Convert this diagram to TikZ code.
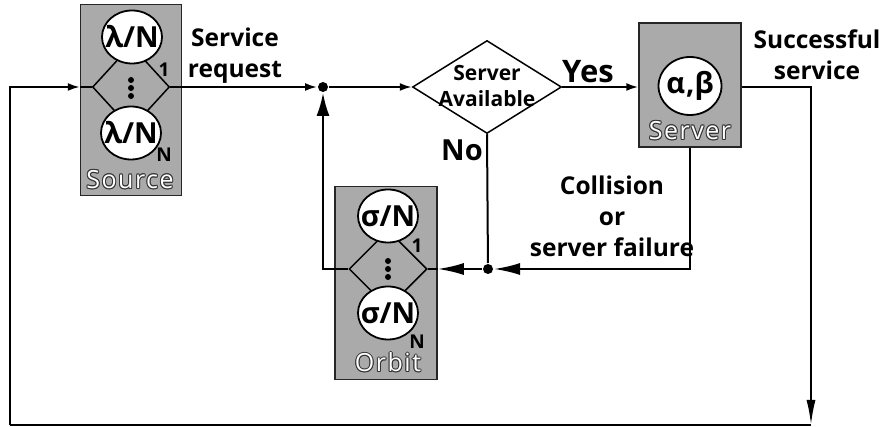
\documentclass[tikz,border=0pt]{standalone}
\usepackage{fontspec}
\setmainfont{Open Sans}
\usepackage[copies]{contour}
\contourlength{1pt}
\contournumber{8}
\usetikzlibrary{positioning,shapes.geometric,arrows.meta}
\definecolor{boxgray}{RGB}{170,170,170}
\begin{document}
\begin{tikzpicture}[x=1pt,y=-1pt,line width=2pt,
    box/.style={draw=black!85,fill=boxgray,line width=1.5pt,inner sep=0},
    rate/.style={ellipse,draw,fill=white,line width=1.8pt,minimum width=60pt,minimum height=53pt,
      inner sep=0,label={[font=\fontsize{29}{29}\selectfont\bfseries]center:#1}},
    split/.style={diamond,draw,line width=1.5pt,inner sep=0},
    idx/.style={font=\fontsize{19}{19}\selectfont\bfseries},
    tag/.style={font=\fontsize{25}{25}\selectfont\addfontfeature{LetterSpace=6},text=white},
    lbl/.style={align=center,font=\fontsize{24.5}{31}\selectfont\bfseries},
    junc/.style={circle,fill,inner sep=0,minimum size=10pt},
    sm/.style={-{Latex[length=12pt,width=8pt]}},
    big/.style={-{Latex[length=26pt,width=12pt]}}]
  \useasboundingbox (0,0) rectangle (884,427);

  % source
  \node[box,minimum width=101pt,minimum height=191pt] (source) at (131,100) {};
  \node[split,minimum width=77pt,minimum height=84pt] (srcsplit) at (131,87) {};
  \node[rate=λ/N] (src1) at (132,37) {};
  \node[rate=λ/N] (srcN) at (131,133) {};
  \foreach \y in {80,88,96}
    \fill (131,\y) circle (3pt);
  \node[idx] at (164,70) {1};
  \node[idx] at (164,155) {N};
  \node[tag] at (130,180) {\contour{black!80}{Source}};

  % server
  \node[box,minimum width=102pt,minimum height=124pt] (server) at (690,85) {};
  \node[rate=α\kern1pt{,}β,minimum width=63pt,minimum height=58pt] (srvrate) at (690,86) {};
  \node[tag] at (690,131) {\contour{black!80}{Server}};

  % orbit
  \node[box,minimum width=102pt,minimum height=193pt] (orbit) at (386,283) {};
  \node[split,minimum width=78pt,minimum height=78pt] (orbsplit) at (388,269) {};
  \node[rate=σ/N] (orb1) at (388,216) {};
  \node[rate=σ/N] (orbN) at (388,313) {};
  \foreach \y in {261,269,277}
    \fill (388,\y) circle (3pt);
  \node[idx] at (417,246) {1};
  \node[idx] at (417,342) {N};
  \node[tag] at (388,363) {\contour{black!80}{Orbit}};

  % decision
  \node[split,minimum width=149pt,minimum height=93pt] (avail) at (487,87) {};
  \node[align=center,font=\fontsize{21}{26}\selectfont\bfseries] (availtxt) at (487,86) {Server\\Available};

  \node[junc] (jin) at (323,87) {};
  \node[junc] (jout) at (488,269) {};
  \coordinate (sink) at (811,425);
  \coordinate (back) at (10,425);

  % flows
  \draw[sm] (back) |- (source.west |- srcsplit.west);
  \draw (source.west |- srcsplit.west) -- (srcsplit.west);
  \draw[sm] (srcsplit.east) -- (jin);
  \draw[sm] (jin) -- (avail.west);
  \draw[sm] (avail.east) -- (server.west |- avail.east);
  \draw (avail.south) -- (jout);
  \draw[big] (server.south) |- (jout);
  \draw[big] (jout) -- (orbit.east |- jout);
  \draw (orbsplit.east) -- (orbit.east |- orbsplit.east);
  \draw[-{Latex[length=23pt,width=13pt]}] (orbsplit.west) -| (jin);
  \draw[-{Latex[length=25pt,width=9pt]}] (server.east |- avail.east) -| (sink);
  \draw (sink) -- (back);

  % labels
  \node[lbl] (reqlbl) at (235,56) {Service\\request};
  \node[font=\fontsize{31}{31}\selectfont\bfseries] (yeslbl) at (588,72) {Yes};
  \node[font=\fontsize{29}{29}\selectfont\bfseries] (nolbl) at (462,150) {No};
  \node[lbl] (oklbl) at (817,55) {Successful\\service};
  \node[lbl] (faillbl) at (612,216) {Collision\\or\\server failure};
\end{tikzpicture}
\end{document}
